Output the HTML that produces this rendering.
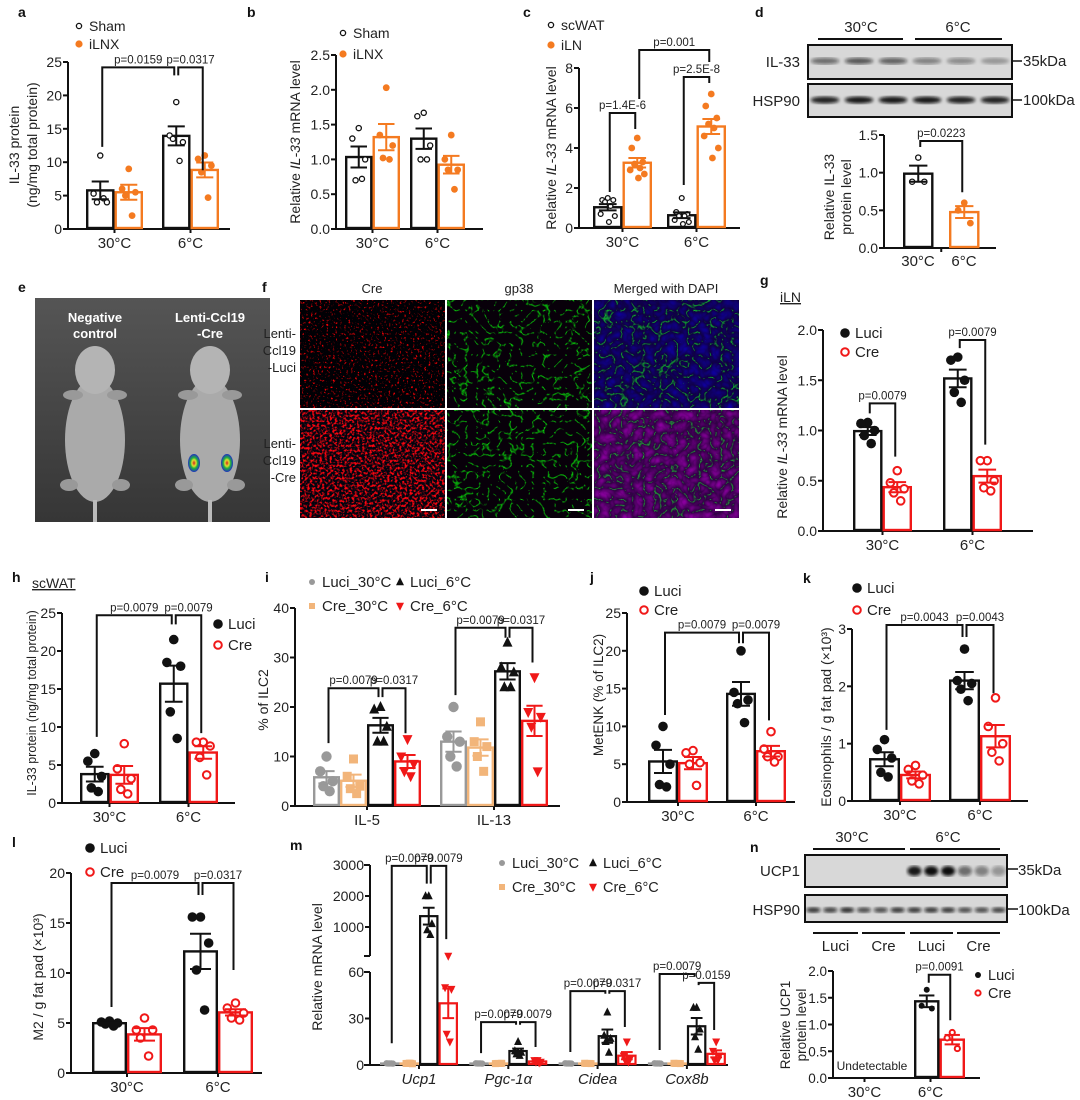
<!DOCTYPE html>
<html><head><meta charset="utf-8">
<style>
html,body{margin:0;padding:0;background:#fff;}
svg{display:block;font-family:"Liberation Sans",Arial,sans-serif;}
</style></head>
<body>
<svg id="fig" width="1080" height="1100" viewBox="0 0 1080 1100">
<defs>
<filter id="fRedSparse" x="0" y="0" width="100%" height="100%" color-interpolation-filters="sRGB"><feTurbulence type="fractalNoise" baseFrequency="0.45" numOctaves="2" seed="3"/><feColorMatrix type="matrix" values="5 0 0 0 -3.0  0 0 0 0 0  0 0 0 0 0.02  0 0 0 0 1"/></filter>
<filter id="fRedDense" x="0" y="0" width="100%" height="100%" color-interpolation-filters="sRGB"><feTurbulence type="fractalNoise" baseFrequency="0.4" numOctaves="2" seed="5"/><feColorMatrix type="matrix" values="4 0 0 0 -1.8  0 0 0 0 0.02  0 0 0 0 0.06  0 0 0 0 1"/></filter>
<filter id="fGreen" x="0" y="0" width="100%" height="100%" color-interpolation-filters="sRGB"><feTurbulence type="turbulence" baseFrequency="0.09" numOctaves="2" seed="7"/><feColorMatrix type="matrix" values="0 0 0 0 0.03  -6 0 0 0 0.8  0 0 0 0 0.04  0 0 0 0 1"/></filter>
<filter id="fMerge" x="0" y="0" width="100%" height="100%" color-interpolation-filters="sRGB"><feTurbulence type="turbulence" baseFrequency="0.09" numOctaves="2" seed="7"/><feColorMatrix type="matrix" values="0 0 0 0 0.06  -6 0 0 0 0.7  0.6 0 0 0 0.18  0 0 0 0 1"/></filter>
<filter id="fMerge2" x="0" y="0" width="100%" height="100%" color-interpolation-filters="sRGB"><feTurbulence type="turbulence" baseFrequency="0.09" numOctaves="2" seed="9"/><feColorMatrix type="matrix" values="0.6 0 0 0 0.12  -6 0 0 0 0.65  0.6 0 0 0 0.2  0 0 0 0 1"/></filter>
<filter id="blur1"><feGaussianBlur stdDeviation="1.6"/></filter>
<linearGradient id="photoBg" x1="0" y1="0" x2="0" y2="1"><stop offset="0" stop-color="#555"/><stop offset="1" stop-color="#363636"/></linearGradient>
<radialGradient id="spot"><stop offset="0" stop-color="#d02020"/><stop offset="0.35" stop-color="#e0e030"/><stop offset="0.6" stop-color="#20b040"/><stop offset="1" stop-color="#2030c0"/></radialGradient>
</defs>
</svg>
<script>
// ---------------- DATA ----------------
// Panel a
const aCats=['30°C','6°C'];
const aSham=[[11,5.3,4,4,4.6],[19,14,13,13.5,10.2]];
const aILNX=[[9,6,5.5,5,2],[11,10.5,9.5,8.5,4.7]];
const aTicks=[0,5,10,15,20,25];
const aBrackets=[[0,0,1,0,24.2,12.3,23,'p=0.0159'],[1,0,1,1,24.2,23,8.8,'p=0.0317']];
// Panel b
const bCats=['30°C','6°C'];
const bSham=[[1.45,1.3,1.0,0.7,0.72],[1.67,1.62,1.2,1.0,1.0]];
const bILNX=[[2.03,1.35,1.2,1.02,1.0],[1.35,1.0,0.85,0.85,0.57]];
const bTicks=[0,0.5,1.0,1.5,2.0,2.5];
// Panel c
const cCats=['30°C','6°C'];
const cScWAT=[[1.5,1.4,1.4,1.3,1.1,0.7,0.6,0.3],[1.5,0.8,0.7,0.6,0.6,0.4,0.3,0.2]];
const cILN=[[4.5,4,3.3,3.2,3.0,2.9,2.7,2.5],[6.7,6.1,5.5,5.2,5.0,4.6,4.0,3.5]];
const cTicks=[0,2,4,6,8];
const cBrackets=[[0,0,0,1,5.75,1.8,4.95,'p=1.4E-6'],[1,0,1,1,7.55,2.15,7.25,'p=2.5E-8'],[0,1,1,1,8.9,6.45,8.3,'p=0.001']];
// Panel d
const dCats=['30°C','6°C'];
const d30=[[1.2,0.88,0.88]];
const d6=[[0.6,0.5,0.33]];
const dTicks=[0,0.5,1.0,1.5];
const dBrackets=[[0,0,0,1,1.42,1.34,0.74,'p=0.0223']];
// Panel g
const gCats=['30°C','6°C'];
const gLuci=[[1.08,1.07,1.0,0.95,0.87],[1.73,1.7,1.5,1.38,1.28]];
const gCre=[[0.6,0.48,0.42,0.38,0.3],[0.7,0.7,0.5,0.43,0.4]];
const gTicks=[0,0.5,1.0,1.5,2.0];
const gBrackets=[[0,0,0,1,1.27,1.17,0.74,'p=0.0079'],[1,0,1,1,1.9,1.82,0.86,'p=0.0079']];
// Panel h
const hCats=['30°C','6°C'];
const hLuci=[[6.5,5.5,3.5,2,1.5],[21.5,18.5,18,12,8.5]];
const hCre=[[7.8,4.5,3.2,1.8,1.2],[8,8,7.5,6,3.7]];
const hTicks=[0,5,10,15,20,25];
const hBrackets=[[0,0,1,0,24.7,8.7,23.5,'p=0.0079'],[1,0,1,1,24.7,23.5,9.2,'p=0.0079']];
// Panel i
const iCats=['IL-5','IL-13'];
const iLuci30=[[10,7,5,4,3],[20,14,13,10,8]];
const iCre30=[[9.5,6,4,3.5,2.5],[17,13,12,10,7]];
const iLuci6=[[20,19.5,16,13,13],[33,28,27,24,24]];
const iCre6=[[13.5,10,8.5,7,6],[26,19,18,16,7]];
const iTicks=[0,10,20,30,40];
const iBrackets=[[0,0,0,2,23.8,12.7,22,'p=0.0079'],[0,2,0,3,23.8,22,14.7,'p=0.0317'],[1,0,1,2,36,22.4,34,'p=0.0079'],[1,2,1,3,36,34,29,'p=0.0317']];
// Panel j
const jCats=['30°C','6°C'];
const jLuci=[[10,7.5,5,2.3,2],[20,14.5,13.5,13,10.5]];
const jCre=[[6.8,6.5,5.2,5,2.2],[9.3,7,6,6,5.3]];
const jTicks=[0,5,10,15,20,25];
const jBrackets=[[0,0,1,0,22.4,11.5,21,'p=0.0079'],[1,0,1,1,22.4,21,10.8,'p=0.0079']];
// Panel k
const kCats=['30°C','6°C'];
const kLuci=[[1.07,0.9,0.75,0.5,0.42],[2.65,2.1,2.05,1.95,1.75]];
const kCre=[[0.62,0.55,0.45,0.35,0.3],[1.8,1.3,1.0,0.85,0.7]];
const kTicks=[0,1,2,3];
const kBrackets=[[0,0,1,0,3.07,1.24,2.86,'p=0.0043'],[1,0,1,1,3.07,2.86,1.88,'p=0.0043']];
// Panel l
const lCats=['30°C','6°C'];
const lLuci=[[5.2,5.1,5,4.9,4.7],[15.6,15.6,13,10.3,6.3]];
const lCre=[[5.5,4.3,4.3,3.5,1.7],[7,6.5,6,5.5,5.3]];
const lTicks=[0,5,10,15,20];
const lBrackets=[[0,0,1,0,19,6.6,17.8,'p=0.0079'],[1,0,1,1,19,17.8,10.3,'p=0.0317']];
// Panel m
const mCats=['Ucp1','Pgc-1α','Cidea','Cox8b'];
const mLuci30=[[1,1.1,0.9,1,1],[1,1.1,0.9,1,1],[1,1.1,0.9,1,1],[1,1.1,0.9,1,1]];
const mCre30=[[1.2,1,0.8,1,1.1],[1,0.9,1.1,1,1],[1,1.1,0.9,1,1],[1,1.1,0.9,1,1]];
const mLuci6=[[2000,2000,1100,900,750],[15,9,8,7,6],[34,19,17,15,8],[37,37,23,18,10]];
const mCre6=[[65,50,49,20,15],[3,3,2,2,1.5],[15,6,4,3,2],[15,9,6,3,3]];
const mTicks=[0,30,60,1000,2000,3000];
const mBrackets=[[0,0,0,2,2970,14,2400,'p=0.0079'],[0,2,0,3,2970,2400,610,'p=0.0079'],[1,0,1,2,27.7,7.7,26,'p=0.0079'],[1,2,1,3,27.7,26,11.6,'p=0.0079'],[2,0,2,2,47.7,8.4,46,'p=0.0079'],[2,2,2,3,47.7,46,24.5,'p=0.0317'],[3,0,3,2,58.7,9.7,57,'p=0.0079'],[3,2,3,3,53,51.5,22.6,'p=0.0159']];
// Panel n
const nCats=['30°C','6°C'];
const nLuci=[null,[1.65,1.35,1.3]];
const nCre=[null,[0.85,0.75,0.55]];
const nTicks=[0,0.5,1.0,1.5,2.0];
const nBrackets=[[1,0,1,1,1.93,1.78,1.08,'p=0.0091']];

// ---------------- DRAWING ----------------
const NS='http://www.w3.org/2000/svg';
const svg=document.getElementById('fig');
const OR='#f47a20', RED='#f01818', GRY='#999999', TAN='#f2b57a', BLK='#111111';
const JIT=[0,-7,7,-3.5,3.5,-9,9,1.5];
function el(tag,attrs,parent){const e=document.createElementNS(NS,tag);for(const k in attrs)e.setAttribute(k,attrs[k]);(parent||svg).appendChild(e);return e;}
function tx(str,x,y,size,parent,anchor,extra){
  const t=el('text',Object.assign({x:x,y:y,'font-size':size,fill:'#222','text-anchor':anchor||'start'},extra||{}),parent);
  t.textContent=str;return t;
}
function mean(a){return a.reduce((s,v)=>s+v,0)/a.length;}
function sem(a){const m=mean(a);return Math.sqrt(a.reduce((s,v)=>s+(v-m)*(v-m),0)/(a.length-1))/Math.sqrt(a.length);}
function marker(type,cx,cy,color,sz,parent){
  let e;
  if(type==='oc'){e=el('circle',{cx:cx,cy:cy,r:sz||2.6,fill:'#fff',stroke:color,'stroke-width':1.3},parent);}
  else if(type==='fc'){e=el('circle',{cx:cx,cy:cy,r:sz||3.4,fill:color},parent);}
  else if(type==='OC'){e=el('circle',{cx:cx,cy:cy,r:sz||4,fill:'#fff',stroke:color,'stroke-width':2},parent);}
  else if(type==='sq'){const s=sz||9;e=el('rect',{x:cx-s/2,y:cy-s/2,width:s,height:s,fill:color},parent);}
  else if(type==='tu'){const s=sz||10;e=el('polygon',{points:`${cx},${cy-s*0.6} ${cx-s/2},${cy+s*0.4} ${cx+s/2},${cy+s*0.4}`,fill:color},parent);}
  else if(type==='td'){const s=sz||10;e=el('polygon',{points:`${cx},${cy+s*0.6} ${cx-s/2},${cy-s*0.4} ${cx+s/2},${cy-s*0.4}`,fill:color},parent);}
  
  
  return e;
}
function drawPanel(P){
  const g=el('g',{});
  
  
  const ys=P.scale||(v=>P.y0-v*(P.y0-P.yTop)/P.max);
  const xA=P.xA, sw=P.sw||2.4;
  const segs=P.segs||[[P.yTop,P.y0]];
  segs.forEach(s=>{const a=el('line',{x1:xA,y1:s[0],x2:xA,y2:s[1],stroke:BLK,'stroke-width':2},g);
    
    
    if(P.segs){el('line',{x1:xA-6,y1:s[0],x2:xA,y2:s[0],stroke:BLK,'stroke-width':2},g);el('line',{x1:xA-6,y1:s[1],x2:xA,y2:s[1],stroke:BLK,'stroke-width':2},g);}
  });
  P.ticks.forEach(t=>{const y=ys(t);
    el('line',{x1:xA-5,y1:y,x2:xA,y2:y,stroke:BLK,'stroke-width':2},g);
    const lab=tx(P.fmt?t.toFixed(P.fmt):String(t),xA-6,y+5,P.tfs||14,g,'end');
    
    
  });
  const xa=el('line',{x1:xA-1,y1:P.y0,x2:P.xEnd,y2:P.y0,stroke:BLK,'stroke-width':2},g);
  
  
  const ns=P.series.length;
  const barX=(ci,si)=>P.start+ci*P.gap+si*P.inner;
  const barC=(ci,si)=>barX(ci,si)+P.w/2;
  P.cats.forEach((c,ci)=>{
    const cx=P.start+ci*P.gap+((ns-1)*P.inner+P.w)/2+(P.labelDx||0);
    el('line',{x1:cx,y1:P.y0,x2:cx,y2:P.y0+4,stroke:BLK,'stroke-width':2},g);
    const lab=tx(c,cx,P.y0+19,P.xfs||15,g,'middle',P.italic?{'font-style':'italic'}:{});
    
    
  });
  P.series.forEach((S,si)=>{
    P.cats.forEach((c,ci)=>{
      const pts=S.pts[ci]; if(!pts) return;
      const m=mean(pts), se=sem(pts);
      const x1=barX(ci,si), cx=x1+P.w/2, top=ys(m);
      const r=el('rect',{x:x1+sw/2,y:top,width:P.w-sw,height:P.y0-top-1,fill:'#fff',stroke:S.color,'stroke-width':sw},g);
      
      
      const k=P.jk||1;
      pts.forEach((v,pi)=>{const jj=(pts.length===3?[0,-6,6][pi]:JIT[pi%JIT.length]);
        marker(S.mk,cx+jj*k*P.w/30,ys(v),S.color,S.sz,g);});
      const hw=P.w*0.3;
      const e1=el('line',{x1:cx,y1:ys(m-se),x2:cx,y2:ys(m+se),stroke:S.color,'stroke-width':2},g);
      
      
      el('line',{x1:cx-hw,y1:ys(m+se),x2:cx+hw,y2:ys(m+se),stroke:S.color,'stroke-width':2},g);
      el('line',{x1:cx-hw,y1:ys(m-se),x2:cx+hw,y2:ys(m-se),stroke:S.color,'stroke-width':2},g);
    });
  });
  (P.brackets||[]).forEach(b=>{
    const xl=barC(b[0],b[1])+2, xr=barC(b[2],b[3])-2, yt=ys(b[4]);
    const p=el('polyline',{points:`${xl},${ys(b[5])} ${xl},${yt} ${xr},${yt} ${xr},${ys(b[6])}`,fill:'none',stroke:BLK,'stroke-width':2},g);
    
    
    const t=tx(b[7],(xl+xr)/2,yt-4,P.pfs||11.5,g,'middle');
    
    
  });
  (P.ylab||[]).forEach(L=>{
    const t=el('text',{x:0,y:0,'font-size':L[3]||14,fill:'#222','text-anchor':'middle',transform:`translate(${L[1]},${L[2]}) rotate(-90)`},g);
    
    
    L[0].forEach(part=>{const s=el('tspan',part[1]?{'font-style':'italic'}:{},t);s.textContent=part[0];});
  });
  (P.legend||[]).forEach(L=>{
    const lg=el('g',{},g);
    
    
    marker(L[0],L[3],L[4],L[1],L[5],lg);
    tx(L[2],L[3]+10,L[4]+5,L[6]||14,lg);
  });
  return g;
}
function letter(s,x,y){const t=tx(s,x,y,14,svg,'start',{'font-weight':'bold',fill:'#111'});
  
  }

drawPanel({name:'panel-a-chart',cats:aCats,series:[{pts:aSham,color:BLK,mk:'oc'},{pts:aILNX,color:OR,mk:'fc'}],
  xA:68,y0:229,yTop:62,max:25,ticks:aTicks,xEnd:230,start:86,w:28.5,inner:28.5,gap:76,brackets:aBrackets,
  ylab:[[[['IL-33 protein']],19,145],[[['(ng/mg total protein)']],37,145]],
  legend:[['oc',BLK,'Sham',79,26,2.6,14],['fc',OR,'iLNX',79,44,3.6,14]]});
drawPanel({name:'panel-b-chart',cats:bCats,series:[{pts:bSham,color:BLK,mk:'oc'},{pts:bILNX,color:OR,mk:'fc'}],
  xA:336,y0:229,yTop:55,max:2.5,ticks:bTicks,fmt:1,xEnd:483,start:345,w:27.5,inner:27.5,gap:65,
  ylab:[[[['Relative '],['IL-33',1],[' mRNA level']],300,142]],
  legend:[['oc',BLK,'Sham',343,33,2.6,14],['fc',OR,'iLNX',343,54,3.6,14]]});
drawPanel({name:'panel-c-chart',cats:cCats,series:[{pts:cScWAT,color:BLK,mk:'oc',sz:2.4},{pts:cILN,color:OR,mk:'fc'}],
  xA:579,y0:228,yTop:68,max:8,ticks:cTicks,xEnd:740,start:593,w:29.5,inner:29.5,gap:74,brackets:cBrackets,jk:0.8,
  ylab:[[[['Relative '],['IL-33',1],[' mRNA level']],556,148]],
  legend:[['oc',BLK,'scWAT',551,25,2.6,14],['fc',OR,'iLN',551,45,3.6,14]]});
drawPanel({name:'panel-d-chart',cats:['30°C'],series:[{pts:d30,color:BLK,mk:'oc'},{pts:d6,color:OR,mk:'fc'}],
  xA:884,y0:248,yTop:135,max:1.5,ticks:dTicks,fmt:1,xEnd:996,start:903,w:30.5,inner:46,gap:0,brackets:dBrackets,xfs:0.01,
  ylab:[[[['Relative IL-33']],834,197],[[['protein level']],851,197]]});
tx('30°C',918,266,15,svg,'middle');tx('6°C',964,266,15,svg,'middle');
drawPanel({name:'panel-g-chart',cats:gCats,series:[{pts:gLuci,color:BLK,mk:'fc',sz:4.8},{pts:gCre,color:RED,mk:'OC',sz:3.8}],
  xA:823,y0:531,yTop:330,max:2,ticks:gTicks,fmt:1,xEnd:1033,start:853,w:29.5,inner:29.5,gap:90,brackets:gBrackets,
  ylab:[[[['Relative '],['IL-33',1],[' mRNA level']],787,437]],
  legend:[['fc',BLK,'Luci',845,333,4.8,15],['OC',RED,'Cre',845,352,3.8,15]]});
drawPanel({name:'panel-h-chart',cats:hCats,series:[{pts:hLuci,color:BLK,mk:'fc',sz:4.8},{pts:hCre,color:RED,mk:'OC',sz:3.8}],
  xA:62,y0:803,yTop:613,max:25,ticks:hTicks,xEnd:235,start:80,w:29.5,inner:29.5,gap:79,brackets:hBrackets,
  ylab:[[[['IL-33 protein  (ng/mg total protein)']],36,703,12.5]],
  legend:[['fc',BLK,'Luci',218,624,4.8,15],['OC',RED,'Cre',218,645,3.8,15]]});
drawPanel({name:'panel-i-chart',cats:iCats,series:[{pts:iLuci30,color:GRY,mk:'fc',sz:5.2},{pts:iCre30,color:TAN,mk:'sq',sz:9},{pts:iLuci6,color:BLK,mk:'tu',sz:10},{pts:iCre6,color:RED,mk:'td',sz:10}],
  xA:295,y0:806,yTop:608,max:40,ticks:iTicks,xEnd:560,start:313,w:27,inner:27,gap:127,brackets:iBrackets,
  ylab:[[[['% of ILC2']],268,700,14]],
  legend:[['fc',GRY,'Luci_30°C',312,582,3,15],['tu',BLK,'Luci_6°C',400,582,8,15],['sq',TAN,'Cre_30°C',312,606,6,15],['td',RED,'Cre_6°C',400,606,8,15]]});
drawPanel({name:'panel-j-chart',cats:jCats,series:[{pts:jLuci,color:BLK,mk:'fc',sz:4.8},{pts:jCre,color:RED,mk:'OC',sz:3.8}],
  xA:627,y0:802,yTop:613,max:25,ticks:jTicks,xEnd:795,start:648,w:30,inner:30,gap:78,brackets:jBrackets,
  ylab:[[[['MetENK (% of ILC2)']],603,695,13.5]],
  legend:[['fc',BLK,'Luci',644,591,4.8,15],['OC',RED,'Cre',644,610,3.8,15]]});
drawPanel({name:'panel-k-chart',cats:kCats,series:[{pts:kLuci,color:BLK,mk:'fc',sz:4.8},{pts:kCre,color:RED,mk:'OC',sz:3.8}],
  xA:852,y0:801,yTop:629,max:3,ticks:kTicks,xEnd:1028,start:869,w:31,inner:31,gap:80,brackets:kBrackets,
  ylab:[[[['Eosinophils / g fat pad (×10³)']],831,717,14]],
  legend:[['fc',BLK,'Luci',857,588,4.8,15],['OC',RED,'Cre',857,610,3.8,15]]});
drawPanel({name:'panel-l-chart',cats:lCats,series:[{pts:lLuci,color:BLK,mk:'fc',sz:4.8},{pts:lCre,color:RED,mk:'OC',sz:3.8}],
  xA:71,y0:1073,yTop:873,max:20,ticks:lTicks,xEnd:262,start:92,w:35,inner:35,gap:91,brackets:lBrackets,
  ylab:[[[['M2 / g fat pad (×10³)']],43,977,14]],
  legend:[['fc',BLK,'Luci',90,848,4.8,15],['OC',RED,'Cre',90,872,3.8,15]]});
const mScale=v=>v<=60?1065-v*1.55:927-(v-1000)*0.031;
drawPanel({name:'panel-m-chart',cats:mCats,series:[{pts:mLuci30,color:GRY,mk:'fc',sz:3.2},{pts:mCre30,color:TAN,mk:'sq',sz:7},{pts:mLuci6,color:BLK,mk:'tu',sz:8},{pts:mCre6,color:RED,mk:'td',sz:8}],
  xA:370,y0:1065,scale:mScale,segs:[[865,956],[972,1065]],ticks:mTicks,xEnd:728,start:380,w:19.5,inner:19.5,gap:89.3,brackets:mBrackets,italic:true,jk:0.7,sw:2.2,pfs:11.5,
  ylab:[[[['Relative mRNA level']],322,967,14]],
  legend:[['fc',GRY,'Luci_30°C',502,863,3,14.5],['tu',BLK,'Luci_6°C',593,863,8,14.5],['sq',TAN,'Cre_30°C',502,887,6,14.5],['td',RED,'Cre_6°C',593,887,8,14.5]]});
drawPanel({name:'panel-n-chart',cats:nCats,series:[{pts:nLuci,color:BLK,mk:'fc',sz:3},{pts:nCre,color:RED,mk:'OC',sz:2.6}],
  xA:833,y0:1078,yTop:971,max:2,ticks:nTicks,fmt:1,tfs:13.5,xEnd:980,start:848,w:25.5,inner:25.5,gap:66,brackets:nBrackets,labelDx:-9,
  ylab:[[[['Relative UCP1']],790,1025,13.5],[[['protein level']],806,1025,13.5]],
  legend:[['fc',BLK,'Luci',978,975,3,14.5],['OC',RED,'Cre',978,993,2.6,14.5]]});
tx('Undetectable',872,1070,12,svg,'middle');

[['a',18,17],['b',247,17],['c',523,17],['d',755,17],['e',18,292],['f',262,292],['g',760,285],['h',12,582],['i',265,582],['j',590,582],['k',803,583],['l',12,847],['m',290,850],['n',750,852]].forEach(p=>letter(p[0],p[1],p[2]));

[['iLN',780,302],['scWAT',32,588]].forEach(u=>{const t=tx(u[0],u[1],u[2],14,svg,'start',{'text-decoration':'underline'});
  
  });

function blot(x,y,w,h,lanes,bands,by,bh,name){
  const g=el('g',{});
  
  
  el('rect',{x:x,y:y,width:w,height:h,fill:'#d8d8d8',stroke:BLK,'stroke-width':2},g);
  const lw=w/lanes;
  bands.forEach((b,i)=>{if(b<=0)return;
    el('ellipse',{cx:x+lw*(i+0.5),cy:by,rx:lw*0.42,ry:bh,fill:'#111','fill-opacity':b,filter:'url(#blur1)'},g);});
}
blot(808,45,204,34,6,[0.55,0.65,0.6,0.45,0.4,0.3],61,3.2,'il33-blot');
blot(808,84,204,33,6,[0.9,0.95,0.95,0.95,0.9,0.9],100,3.5,'hsp90-blot-d');
tx('IL-33',800,67,15,svg,'end');tx('HSP90',800,106,15,svg,'end');
el('line',{x1:1012,y1:61,x2:1022,y2:61,stroke:BLK,'stroke-width':1.5});tx('35kDa',1023,66,15);
el('line',{x1:1012,y1:100,x2:1022,y2:100,stroke:BLK,'stroke-width':1.5});tx('100kDa',1023,105,15);
el('line',{x1:818,y1:39,x2:903,y2:39,stroke:BLK,'stroke-width':2});el('line',{x1:915,y1:39,x2:1002,y2:39,stroke:BLK,'stroke-width':2});
tx('30°C',861,32,15,svg,'middle');tx('6°C',958,32,15,svg,'middle');

blot(805,855,202,32,12,[0,0,0,0,0,0,0.95,1,1,0.55,0.45,0.35],871,5,'ucp1-blot');
blot(805,895,202,27,12,[0.8,0.75,0.85,0.7,0.7,0.8,0.8,0.8,0.8,0.7,0.7,0.75],910,2.8,'hsp90-blot-n');
tx('UCP1',800,876,15,svg,'end');tx('HSP90',800,915,15,svg,'end');
el('line',{x1:1007,y1:869,x2:1018,y2:869,stroke:BLK,'stroke-width':1.5});tx('35kDa',1018,875,15);
el('line',{x1:1007,y1:909,x2:1018,y2:909,stroke:BLK,'stroke-width':1.5});tx('100kDa',1018,915,15);
el('line',{x1:813,y1:849,x2:905,y2:849,stroke:BLK,'stroke-width':2});el('line',{x1:910,y1:849,x2:1000,y2:849,stroke:BLK,'stroke-width':2});
tx('30°C',852,842,15,svg,'middle');tx('6°C',948,842,15,svg,'middle');
[[813,858,'Luci'],[862,905,'Cre'],[910,953,'Luci'],[957,1000,'Cre']].forEach(s=>{
  el('line',{x1:s[0],y1:933,x2:s[1],y2:933,stroke:BLK,'stroke-width':2});tx(s[2],(s[0]+s[1])/2,951,15,svg,'middle');});

(function(){
  const g=el('g',{});
  
  
  el('rect',{x:35,y:298,width:235,height:224,fill:'url(#photoBg)'},g);
  [95,210].forEach(cx=>{
    el('ellipse',{cx:cx,cy:440,rx:30,ry:62,fill:'#aaa'},g);
    el('ellipse',{cx:cx,cy:370,rx:20,ry:24,fill:'#b4b4b4'},g);
    el('ellipse',{cx:cx-22,cy:395,rx:10,ry:5,fill:'#999'},g);
    el('ellipse',{cx:cx+22,cy:395,rx:10,ry:5,fill:'#999'},g);
    el('ellipse',{cx:cx-26,cy:485,rx:9,ry:6,fill:'#999'},g);
    el('ellipse',{cx:cx+26,cy:485,rx:9,ry:6,fill:'#999'},g);
    el('line',{x1:cx,y1:500,x2:cx,y2:522,stroke:'#bbb','stroke-width':4},g);
  });
  el('ellipse',{cx:194,cy:463,rx:6,ry:9,fill:'url(#spot)'},g);
  el('ellipse',{cx:227,cy:463,rx:6,ry:9,fill:'url(#spot)'},g);
  const w={'font-weight':'bold',fill:'#fff'};
  tx('Negative',95,322,13,g,'middle',w);tx('control',95,338,13,g,'middle',w);
  tx('Lenti-Ccl19',210,322,13,g,'middle',w);tx('-Cre',210,338,13,g,'middle',w);
})();

(function(){
  const g=el('g',{});
  
  
  const cols=[300,447,594], cw=145, rows=[300,410], rh=108;
  const fil=[['fRedSparse','fGreen','fMerge'],['fRedDense','fGreen','fMerge2']];
  rows.forEach((ry,ri)=>cols.forEach((cx,ci)=>{
    el('rect',{x:cx,y:ry,width:cw,height:rh,fill:'#000'},g);
    el('rect',{x:cx,y:ry,width:cw,height:rh,filter:`url(#${fil[ri][ci]})`},g);
  }));
  cols.forEach(cx=>el('line',{x1:cx+cw-24,y1:510,x2:cx+cw-8,y2:510,stroke:'#fff','stroke-width':2},g));
  tx('Cre',372,293,13,g,'middle');tx('gp38',519,293,13,g,'middle');tx('Merged with DAPI',666,293,13,g,'middle');
  tx('Lenti-',296,338,13,g,'end');tx('Ccl19',296,355,13,g,'end');tx('-Luci',296,372,13,g,'end');
  tx('Lenti-',296,448,13,g,'end');tx('Ccl19',296,465,13,g,'end');tx('-Cre',296,482,13,g,'end');
})();
</script>
</body></html>
